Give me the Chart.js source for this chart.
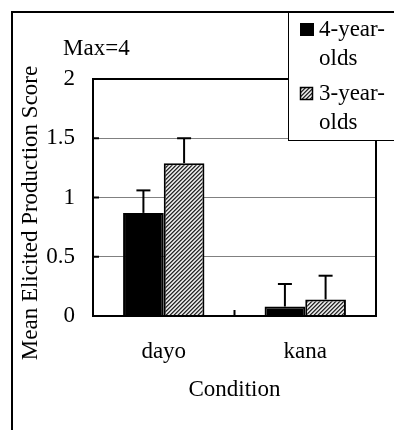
<!DOCTYPE html>
<html>
<head>
<meta charset="utf-8">
<script src="https://cdn.jsdelivr.net/npm/chart.js@4.4.1/dist/chart.umd.min.js"></script>
<style>
  html, body { margin: 0; padding: 0; background: #fff; }
  #wrap { width: 394px; height: 430px; }
</style>
</head>
<body>
<div id="wrap"><canvas id="chart" width="394" height="430"></canvas></div>
<script>
// --- data ---
const conditions = ['dayo', 'kana'];
const fourYearLabel = ['4-year-', 'olds'];
const threeYearLabel = ['3-year-', 'olds'];
const fourYearMeans = [0.87, 0.08];
const fourYearSE = [0.19, 0.19];
const threeYearMeans = [1.29, 0.14];
const threeYearSE = [0.21, 0.20];
const yTicks = [0, 0.5, 1, 1.5, 2];
const yTitle = 'Mean Elicited Production Score';
const xTitle = 'Condition';
const maxNote = 'Max=4';

const FONT = '"Liberation Serif", "Times New Roman", serif';
const FS = 23;

// fine diagonal hatch used for the 3-year-olds bars
const makeHatch = () => {
    const c = document.createElement('canvas');
    c.width = 4; c.height = 4;
    const g = c.getContext('2d');
    const img = g.createImageData(4, 4);
    for (let py = 0; py < 4; py++) {
        for (let px = 0; px < 4; px++) {
            const k = (py * 4 + px) * 4;
            const s = (px + py) % 4;
            const v = s === 0 ? 40 : s === 1 ? 110 : s === 2 ? 235 : 200;
            img.data[k] = img.data[k + 1] = img.data[k + 2] = v;
            img.data[k + 3] = 255;
        }
    }
    g.putImageData(img, 0, 0);
    return g.createPattern(c, 'repeat');
};
const hatch = makeHatch();

const line = (ctx, x1, y1, x2, y2) => {
    ctx.beginPath();
    ctx.moveTo(x1, y1);
    ctx.lineTo(x2, y2);
    ctx.stroke();
};

// --- extras: plot box, ticks, error bars, frame, legend, notes ---
const extrasPlugin = {
    id: 'extras',
    afterDatasetsDraw(chart) {
        const { ctx, chartArea: a, scales: { x, y } } = chart;
        ctx.save();
        ctx.strokeStyle = '#000';
        ctx.lineWidth = 2;
        ctx.strokeRect(a.left, a.top, a.right - a.left, a.bottom - a.top);

        // inward tick marks
        yTicks.forEach(v => {
            const py = y.getPixelForValue(v);
            line(ctx, a.left, py, a.left + 6, py);
        });
        const mid = (x.getPixelForValue(0) + x.getPixelForValue(1)) / 2;
        line(ctx, mid, a.bottom, mid, a.bottom - 6);

        // error bars (upper only)
        chart.data.datasets.forEach((ds, i) => {
            chart.getDatasetMeta(i).data.forEach((bar, j) => {
                const top = y.getPixelForValue(ds.data[j] + ds.errors[j]);
                line(ctx, bar.x, bar.y, bar.x, top);
                line(ctx, bar.x - 7, top, bar.x + 7, top);
            });
        });

        // outer frame
        line(ctx, 12, 11, 12, 430);
        line(ctx, 11, 12, 394, 12);

        // legend box
        ctx.lineWidth = 1;
        ctx.fillStyle = '#fff';
        ctx.fillRect(288.5, 13, 120, 127.5);
        ctx.strokeRect(288.5, 11.5, 120, 129);

        ctx.fillStyle = '#000';
        ctx.fillRect(300, 23, 14, 13);
        ctx.fillStyle = hatch;
        ctx.fillRect(300, 87, 13, 13);
        ctx.strokeStyle = '#000';
        ctx.lineWidth = 1.5;
        ctx.strokeRect(300.5, 87.5, 12, 12);

        ctx.fillStyle = '#000';
        ctx.font = FS + 'px ' + FONT;
        ctx.textAlign = 'left';
        ctx.textBaseline = 'alphabetic';
        fourYearLabel.forEach((t, k) => ctx.fillText(t, 319, 36 + k * 29));
        threeYearLabel.forEach((t, k) => ctx.fillText(t, 319, 100 + k * 29));

        // note above the axis
        ctx.fillText(maxNote, 63, 55);

        // y axis title
        ctx.translate(31, 213);
        ctx.rotate(-Math.PI / 2);
        ctx.textAlign = 'center';
        ctx.textBaseline = 'middle';
        ctx.fillText(yTitle, 0, 0);
        ctx.restore();
    }
};

new Chart(document.getElementById('chart'), {
    type: 'bar',
    data: {
        labels: conditions,
        datasets: [
            {
                label: fourYearLabel.join(' '),
                data: fourYearMeans,
                errors: fourYearSE,
                backgroundColor: '#000',
                borderColor: '#000',
                borderWidth: 2
            },
            {
                label: threeYearLabel.join(' '),
                data: threeYearMeans,
                errors: threeYearSE,
                backgroundColor: hatch,
                borderColor: '#000',
                borderWidth: 2
            }
        ]
    },
    options: {
        responsive: false,
        animation: false,
        devicePixelRatio: 1,
        layout: { padding: { left: 0, right: 18, top: 79, bottom: 0 } },
        datasets: { bar: { categoryPercentage: 0.575, barPercentage: 1 } },
        plugins: { legend: { display: false }, tooltip: { enabled: false } },
        scales: {
            x: {
                grid: { display: false, drawTicks: false },
                border: { display: true, color: '#000', width: 2 },
                ticks: { color: '#000', padding: 22, font: { family: FONT, size: FS } },
                title: {
                    display: true, text: xTitle, color: '#000',
                    font: { family: FONT, size: FS },
                    padding: { top: 0, bottom: 26 }
                },
                afterFit: s => { s.height = 114; }
            },
            y: {
                min: 0,
                max: 2,
                afterBuildTicks: s => { s.ticks = yTicks.map(v => ({ value: v })); },
                grid: { color: '#808080', lineWidth: 1, drawTicks: false },
                border: { display: true, color: '#000', width: 2 },
                ticks: {
                    color: '#000', padding: 18, font: { family: FONT, size: FS },
                    callback: v => String(v)
                },
                afterFit: s => { s.width = 93; }
            }
        }
    },
    plugins: [extrasPlugin]
});
</script>
</body>
</html>
